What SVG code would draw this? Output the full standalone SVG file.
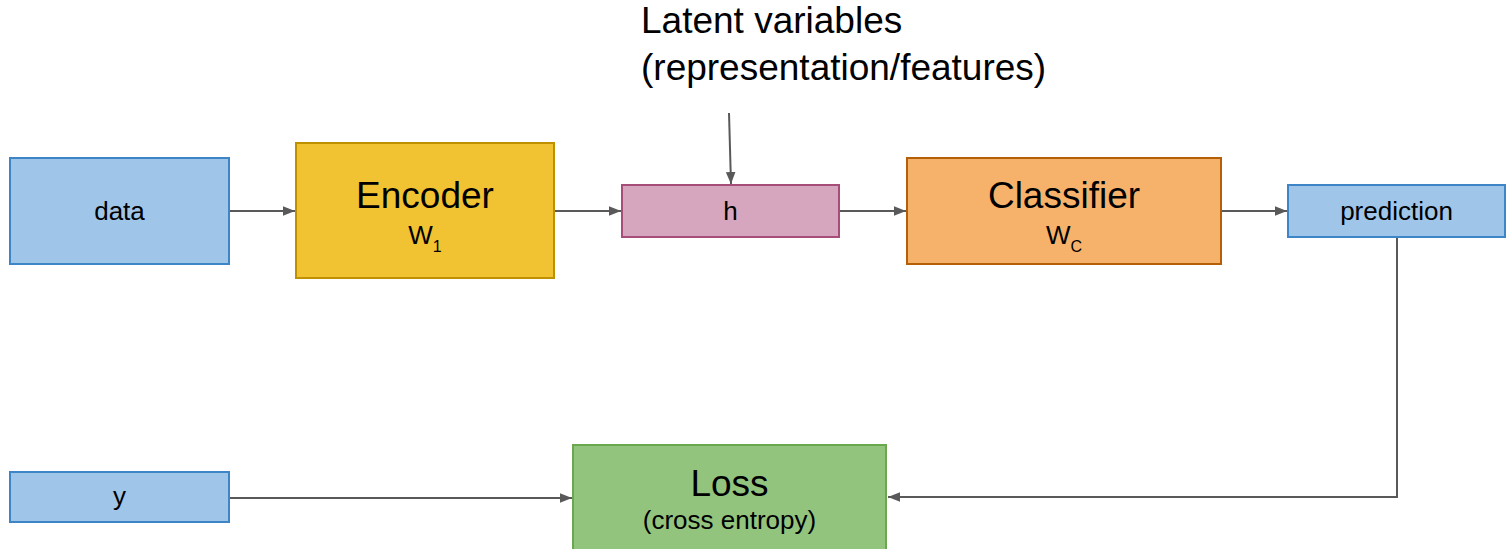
<svg xmlns="http://www.w3.org/2000/svg" width="1506" height="549" viewBox="0 0 1506 549">
  <style>
    text { font-family: "Liberation Sans", Arial, sans-serif; fill: #000; }
    .big { font-size: 37px; text-anchor: middle; }
    .small { font-size: 26px; text-anchor: middle; }
    .weight { font-size: 26px; text-anchor: middle; }
    .sub { font-size: 16px; }
    .note { font-size: 37px; }
    .blue { fill: #9fc5e8; stroke: #3d85c6; stroke-width: 2; }
    .yellow { fill: #f1c232; stroke: #bf9000; stroke-width: 2; }
    .pink { fill: #d5a6bd; stroke: #a64d79; stroke-width: 2; }
    .orange { fill: #f6b26b; stroke: #b45f06; stroke-width: 2; }
    .green { fill: #93c47d; stroke: #6aa84f; stroke-width: 2; }
    .edge { fill: none; stroke: #595959; stroke-width: 2; marker-end: url(#arrow); }
  </style>
  <defs>
    <marker id="arrow" viewBox="0 0 10 10" refX="10" refY="5" markerWidth="6" markerHeight="6" markerUnits="strokeWidth" orient="auto">
      <path d="M0,1 L10,5 L0,9 z" fill="#595959"/>
    </marker>
  </defs>

  <rect width="1506" height="549" fill="#ffffff"/>

  <!-- caption above h -->
  <g id="latent-label">
    <text class="note" x="641" y="33">Latent variables</text>
    <text class="note" x="641" y="80">(representation/features)</text>
  </g>

  <!-- connectors -->
  <g id="connectors">
    <line class="edge" x1="229" y1="211" x2="295" y2="211"/>
    <line class="edge" x1="554" y1="211" x2="621" y2="211"/>
    <line class="edge" x1="839" y1="211" x2="906" y2="211"/>
    <line class="edge" x1="1221" y1="211" x2="1287" y2="211"/>
    <line class="edge" x1="729" y1="113" x2="731" y2="184"/>
    <line class="edge" x1="229" y1="498" x2="572" y2="498"/>
    <polyline class="edge" points="1397,237 1397,497 888,497"/>
  </g>

  <g id="data">
    <rect class="blue" x="10" y="158" width="219" height="106"/>
    <text class="small" x="119.5" y="220">data</text>
  </g>

  <g id="encoder">
    <rect class="yellow" x="296" y="143" width="258" height="135"/>
    <text class="big" x="425" y="208">Encoder</text>
    <text class="weight" x="425" y="244">W<tspan class="sub" dy="8">1</tspan></text>
  </g>

  <g id="h">
    <rect class="pink" x="622" y="185" width="217" height="52"/>
    <text class="small" x="730.5" y="220">h</text>
  </g>

  <g id="classifier">
    <rect class="orange" x="907" y="158" width="314" height="106"/>
    <text class="big" x="1064" y="208">Classifier</text>
    <text class="weight" x="1064" y="244">W<tspan class="sub" dy="8">C</tspan></text>
  </g>

  <g id="prediction">
    <rect class="blue" x="1288" y="185" width="217" height="52"/>
    <text class="small" x="1396.5" y="220">prediction</text>
  </g>

  <g id="y">
    <rect class="blue" x="10" y="472" width="219" height="50"/>
    <text class="small" x="119.5" y="505">y</text>
  </g>

  <g id="loss">
    <rect class="green" x="573" y="445" width="313" height="110"/>
    <text class="big" x="729.5" y="496">Loss</text>
    <text class="small" x="729.5" y="529">(cross entropy)</text>
  </g>
</svg>
